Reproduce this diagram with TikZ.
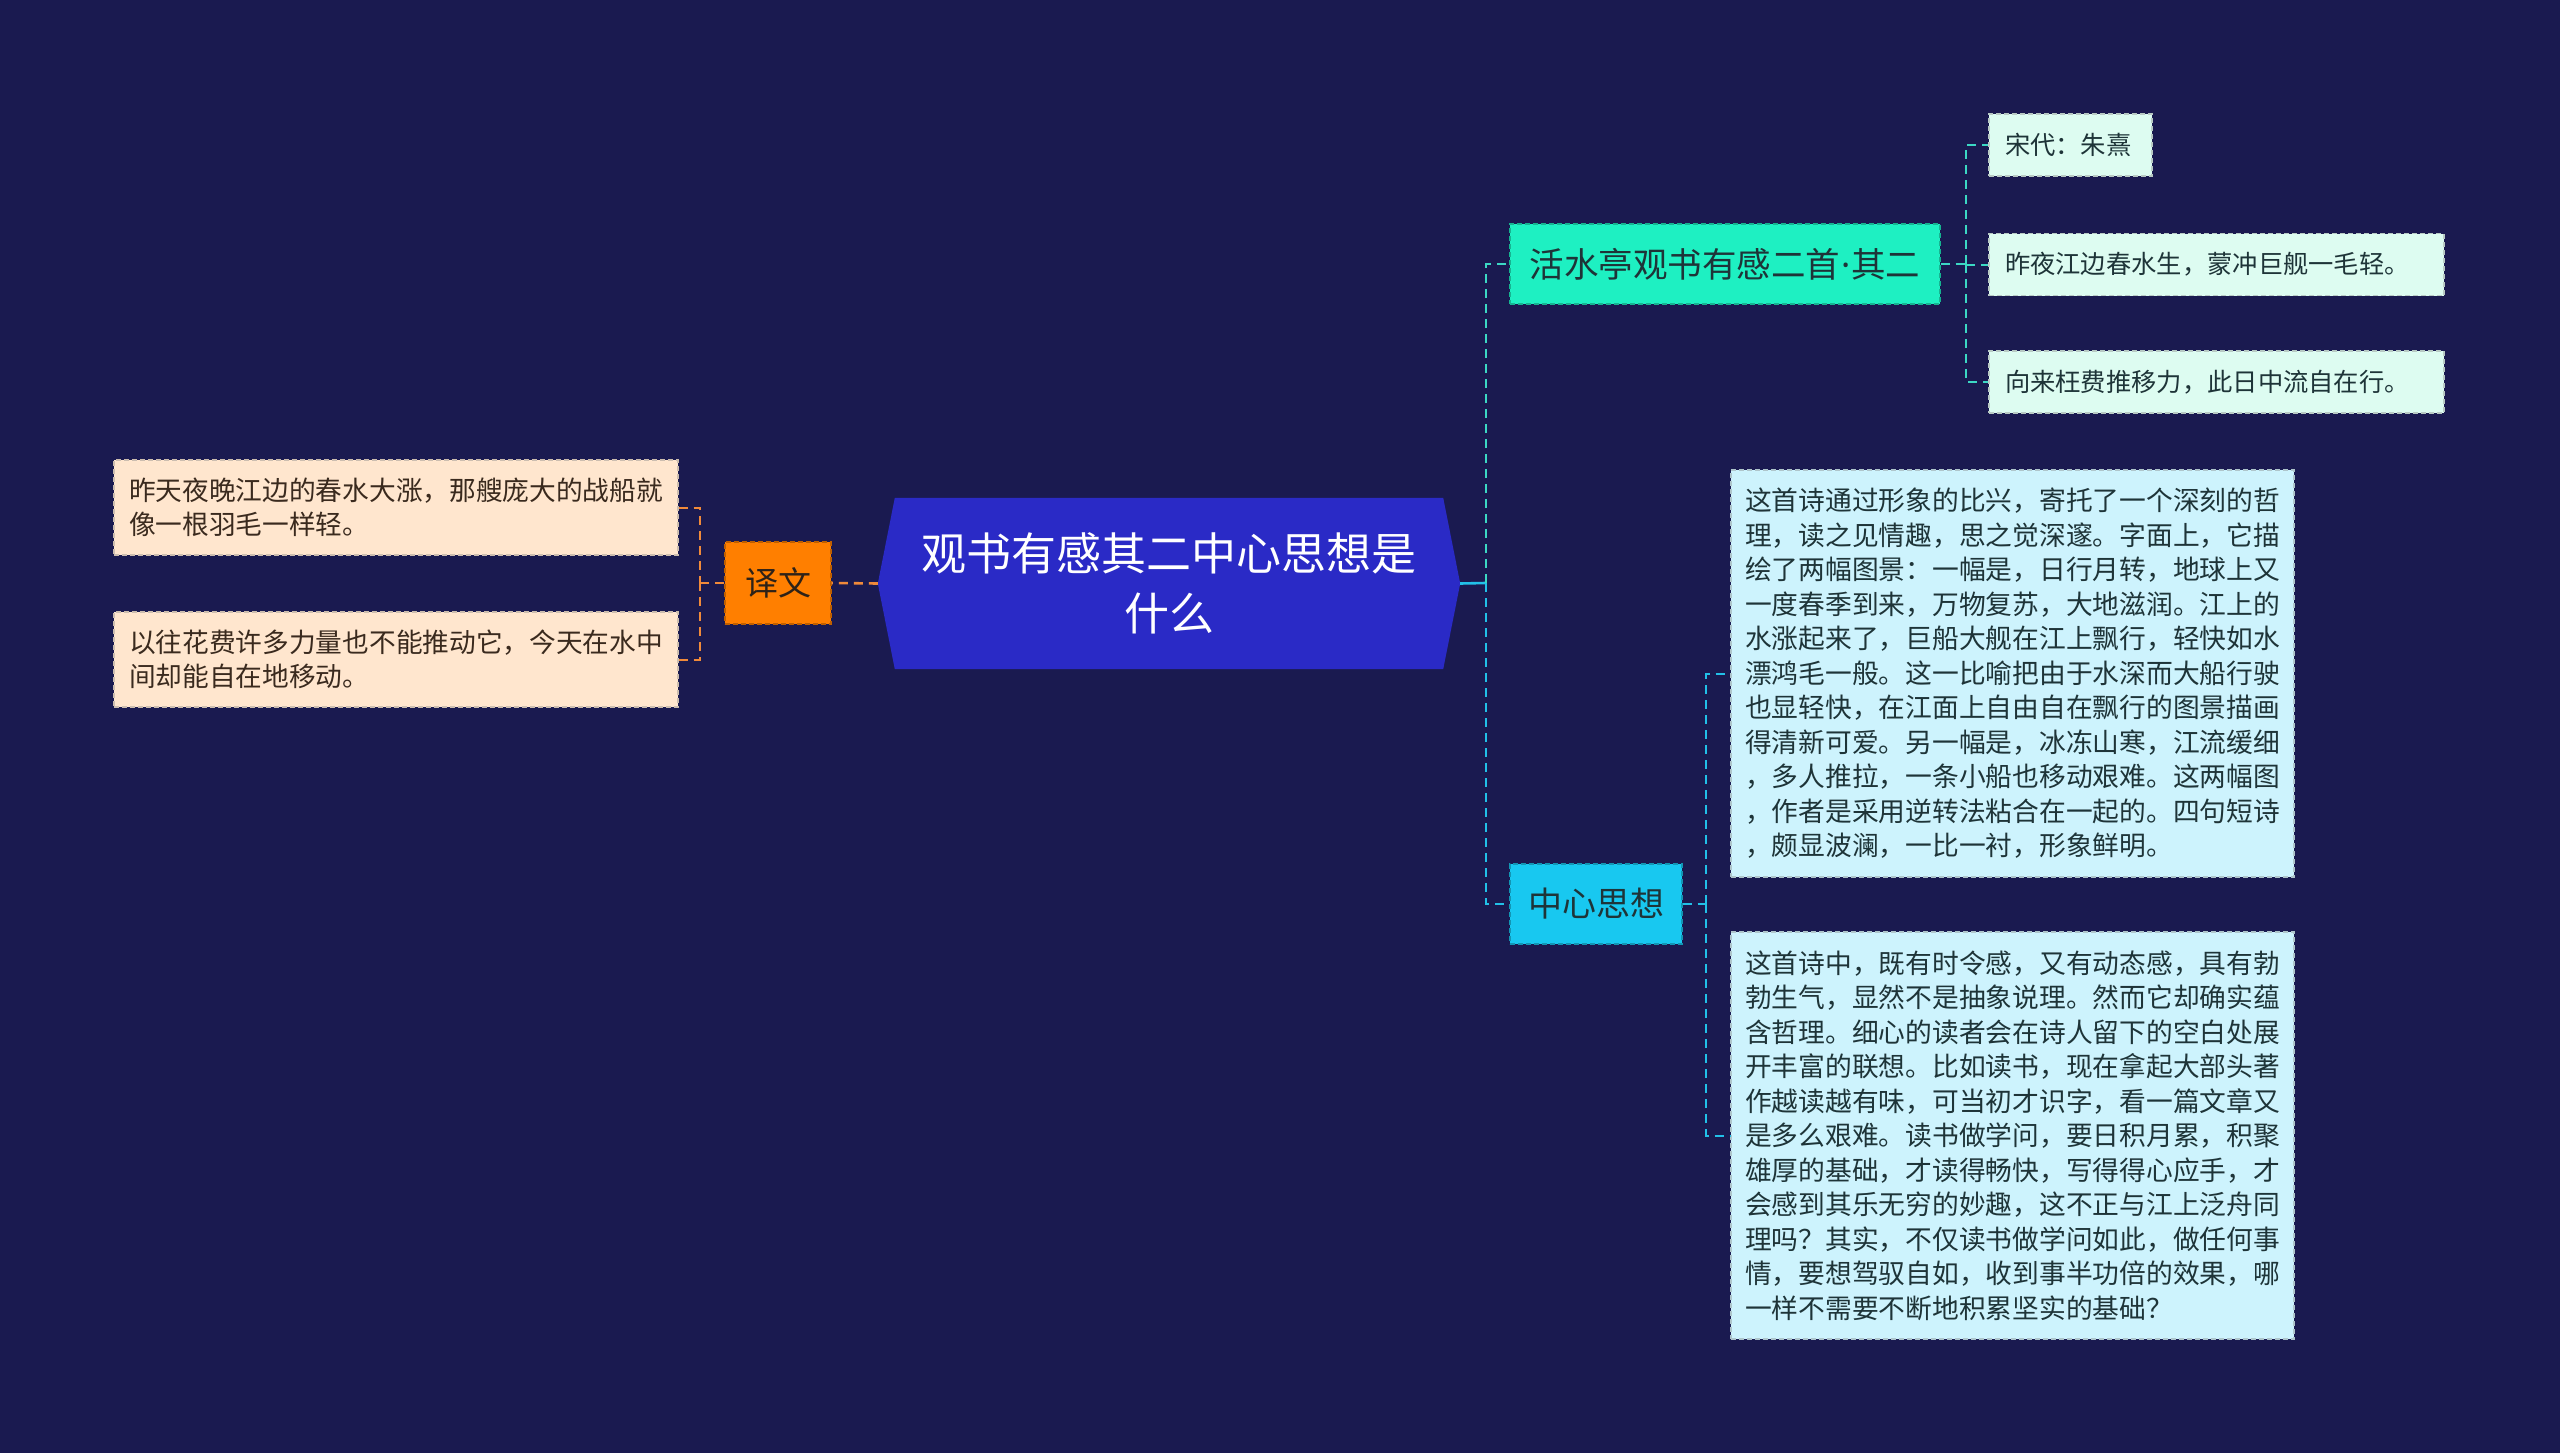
\documentclass[tikz,border=0pt]{standalone}
\usepackage{fontspec}
\setmainfont{Noto Sans CJK SC}
\newfontfamily\latinf{Noto Sans}
\usetikzlibrary{calc}
\pgfdeclarelayer{bg}
\pgfsetlayers{bg,main}
\definecolor{bgc}{HTML}{1A1A50}
\definecolor{rootc}{HTML}{2A2AC6}
\definecolor{orangec}{HTML}{FF7F00}
\definecolor{orangeln}{HTML}{F08A3A}
\definecolor{peachc}{HTML}{FFE6CE}
\definecolor{peachtx}{HTML}{3A2A1E}
\definecolor{aquac}{HTML}{1EF0C2}
\definecolor{aqualn}{HTML}{3CD8C4}
\definecolor{mintc}{HTML}{DDFCF1}
\definecolor{cyanc}{HTML}{18C8F0}
\definecolor{cyanln}{HTML}{22C0E8}
\definecolor{lcyanc}{HTML}{CDF3FD}
\definecolor{darktx}{HTML}{1E3438}
\begin{document}
\begin{tikzpicture}[x=1pt,y=-1pt,
  bdr/.style={draw, dash pattern=on 5pt off 3pt, line width=1.3pt},
  leafbox/.style={bdr, rectangle, inner ysep=0pt, align=left},
  peachleaf/.style={leafbox, fill=peachc, draw=peachc!60!gray, text=peachtx,
     inner xsep=15pt, text width=534pt, minimum height=95pt,
     font=\fontsize{26.7}{34}\selectfont},
  mintleaf/.style={leafbox, fill=mintc, draw=mintc!60!gray, text=darktx,
     inner xsep=16pt, minimum height=62pt, font=\fontsize{25.3}{32}\selectfont},
  cyanleaf/.style={leafbox, fill=lcyanc, draw=lcyanc!60!gray, text=darktx,
     inner xsep=14pt, text width=535pt, minimum height=407pt,
     font=\fontsize{26.75}{34.5}\selectfont},
  mainbox/.style={bdr, rectangle, inner sep=0pt, align=center},
  conn/.style={line width=2.6pt, dash pattern=on 9pt off 6pt},
]
\begin{pgfonlayer}{bg}
\fill[bgc] (0,0) rectangle (2560,1453);
\end{pgfonlayer}
\useasboundingbox (0,0) rectangle (2560,1453);

% root
\node[rectangle, inner sep=0pt, minimum width=548pt, minimum height=171pt, align=center,
      text=white, font=\fontsize{45}{60}\selectfont] (root) at (1169,583.5)
      {观书有感其二中心思想是\\什么};
\begin{pgfonlayer}{bg}
\fill[rootc] (root.north west) -- ($(root.west)+(-17,0)$) -- (root.south west)
   -- (root.south east) -- ($(root.east)+(17,0)$) -- (root.north east) -- cycle;
\end{pgfonlayer}
\coordinate (rootL) at ($(root.west)+(-17,0)$);
\coordinate (rootR) at ($(root.east)+(17,0)$);

% left branch
\node[mainbox, fill=orangec, draw=orangec!75!black, text=peachtx!80!black,
      minimum width=106pt, minimum height=82pt, font=\fontsize{33}{40}\selectfont]
      (yw) at (778,583) {译文};
\node[peachleaf] (la) at (396,507.5) {昨天夜晚江边的春水大涨，那艘庞大的战船就\\像一根羽毛一样轻。};
\node[peachleaf] (lb) at (396,659.5) {以往花费许多力量也不能推动它，今天在水中\\间却能自在地移动。};
\coordinate (lbr) at (700,583);
\draw[conn, orangeln] (rootL) -- (yw.east);
\draw[conn, orangeln, line width=2pt] (yw.west) -- (lbr);
\draw[conn, orangeln, line width=2pt] (la.east) -| (lbr);
\draw[conn, orangeln, line width=2pt] (lb.east) -| (lbr);

% right branch
\node[mainbox, fill=aquac, draw=aquac!75!black, text=darktx,
      minimum width=430pt, minimum height=80pt, font=\fontsize{34.5}{40}\selectfont]
      (hs) at (1725,264) {活水亭观书有感二首{\latinf\kern1pt·\kern1pt}其二};
\node[mainbox, fill=cyanc, draw=cyanc!75!black, text=darktx,
      minimum width=172pt, minimum height=80pt, font=\fontsize{34}{40}\selectfont]
      (zx) at (1596,904) {中心思想};
\coordinate (rbr) at (1486,583);
\draw[line width=2.6pt, cyanln] (rootR) -- (rbr);
\draw[conn, aqualn, line width=2pt] (rbr) |- (hs.west);
\draw[conn, cyanln, line width=2pt] (rbr) |- (zx.west);

% poem leaves
\node[mintleaf, text width=131pt] (m1) at (2070.5,145) {宋代：朱熹};
\node[mintleaf, text width=423pt] (m2) at (2216.5,264.5) {昨夜江边春水生，蒙冲巨舰一毛轻。};
\node[mintleaf, text width=423pt] (m3) at (2216.5,382) {向来枉费推移力，此日中流自在行。};
\coordinate (hbr) at (1966,264);
\draw[conn, aqualn, line width=2pt] (hs.east) -- (hbr);
\draw[conn, aqualn, line width=2pt] (hbr) |- (m1.west);
\draw[conn, aqualn, line width=2pt] (hbr) |- (m2.west);
\draw[conn, aqualn, line width=2pt] (hbr) |- (m3.west);

% central idea leaves
\node[cyanleaf] (c1) at (2012.5,673.5) {这首诗通过形象的比兴，寄托了一个深刻的哲\\理，读之见情趣，思之觉深邃。字面上，它描\\绘了两幅图景：一幅是，日行月转，地球上又\\一度春季到来，万物复苏，大地滋润。江上的\\水涨起来了，巨船大舰在江上飘行，轻快如水\\漂鸿毛一般。这一比喻把由于水深而大船行驶\\也显轻快，在江面上自由自在飘行的图景描画\\得清新可爱。另一幅是，冰冻山寒，江流缓细\\，多人推拉，一条小船也移动艰难。这两幅图\\，作者是采用逆转法粘合在一起的。四句短诗\\，颇显波澜，一比一衬，形象鲜明。};
\node[cyanleaf] (c2) at (2012.5,1135.5) {这首诗中，既有时令感，又有动态感，具有勃\\勃生气，显然不是抽象说理。然而它却确实蕴\\含哲理。细心的读者会在诗人留下的空白处展\\开丰富的联想。比如读书，现在拿起大部头著\\作越读越有味，可当初才识字，看一篇文章又\\是多么艰难。读书做学问，要日积月累，积聚\\雄厚的基础，才读得畅快，写得得心应手，才\\会感到其乐无穷的妙趣，这不正与江上泛舟同\\理吗？其实，不仅读书做学问如此，做任何事\\情，要想驾驭自如，收到事半功倍的效果，哪\\一样不需要不断地积累坚实的基础？};
\coordinate (zbr) at (1706,904);
\draw[conn, cyanln, line width=2pt] (zx.east) -- (zbr);
\draw[conn, cyanln, line width=2pt] (zbr) |- (c1.west);
\draw[conn, cyanln, line width=2pt] (zbr) |- (c2.west);
\end{tikzpicture}
\end{document}
